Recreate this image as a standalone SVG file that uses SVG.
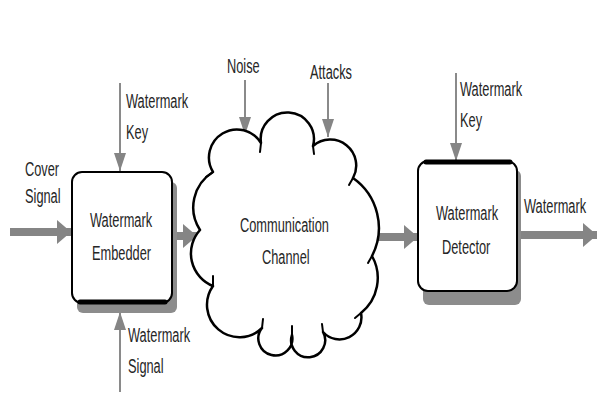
<svg xmlns="http://www.w3.org/2000/svg" width="597" height="400" viewBox="0 0 597 400">
<defs>
<marker id="thin" markerUnits="userSpaceOnUse" markerWidth="18" markerHeight="12" refX="18" refY="6" orient="auto"><path d="M0,0 L18,6 L0,12 z" fill="#858585"/></marker>
<marker id="thick" markerUnits="userSpaceOnUse" markerWidth="14" markerHeight="26" refX="14" refY="13" orient="auto"><path d="M0,1 L14,13 L0,25 z" fill="#858585"/></marker>
<style>
text{font-family:"Liberation Sans",Arial,sans-serif;font-size:20px;fill:#262626;}
.thin{stroke:#8a8a8a;stroke-width:2;fill:none;marker-end:url(#thin);}
.thick{stroke:#858585;stroke-width:8;fill:none;marker-end:url(#thick);}
.box{fill:#fff;stroke:#000;stroke-width:2;}
.shadow{fill:#8c8c8c;}
.edge{stroke:#000;stroke-width:5;stroke-linecap:round;}
.cloud{fill:#fff;stroke:#000;stroke-width:2.5;stroke-linejoin:round;}
.tick{stroke:#000;stroke-width:2;stroke-linecap:round;}
</style>
</defs>
<rect width="597" height="400" fill="#fff"/>

<g id="connectors">
<line class="thick" x1="10" y1="232" x2="71" y2="232"/>
<line class="thick" x1="177" y1="236" x2="197" y2="236"/>
<line class="thick" x1="376" y1="237" x2="418" y2="237"/>
<line class="thick" x1="517" y1="235" x2="597" y2="235"/>
<line class="thin" x1="120" y1="83" x2="120" y2="171"/>
<line class="thin" x1="120" y1="392" x2="120" y2="312"/>
<line class="thin" x1="245" y1="80" x2="245" y2="135"/>
<line class="thin" x1="328" y1="83" x2="328" y2="137"/>
<line class="thin" x1="456" y1="73" x2="456" y2="161"/>
</g>

<g id="embedder">
<rect class="shadow" x="77" y="182" width="100" height="131" rx="6"/>
<rect class="box" x="72" y="172" width="100" height="131" rx="10"/>
<line class="edge" x1="80" y1="302" x2="165" y2="302"/>
<text transform="translate(90,227) scale(0.64,1)">Watermark</text>
<text transform="translate(92,260) scale(0.64,1)">Embedder</text>
</g>

<g id="channel">
<path class="cloud" d="M213,172 A28,28 0 0 1 261,143 A26.6,26.6 0 1 1 313,146 A26,26 0 0 1 353,178 A61,61 0 0 1 372,256 A45,45 0 0 1 361,313 A22,22 0 0 1 323,332 A17,17 0 1 1 292,335 A17,17 0 1 1 262,328 A32.4,32.4 0 0 1 213,286 A35,35 0 0 1 200,230 A41.5,41.5 0 0 1 213,172 Z"/>
<line class="tick" x1="261" y1="143" x2="260" y2="152"/>
<line class="tick" x1="313" y1="146" x2="314" y2="154"/>
<line class="tick" x1="353" y1="178" x2="349" y2="185"/>
<line class="tick" x1="372" y1="256" x2="368" y2="263"/>
<line class="tick" x1="361" y1="313" x2="355" y2="318"/>
<line class="tick" x1="323" y1="332" x2="322" y2="324"/>
<line class="tick" x1="292" y1="335" x2="292" y2="326"/>
<line class="tick" x1="262" y1="328" x2="263" y2="319"/>
<line class="tick" x1="213" y1="286" x2="213" y2="276"/>
<line class="tick" x1="213" y1="172" x2="206" y2="177"/>
<text transform="translate(240,232) scale(0.64,1)">Communication</text>
<text transform="translate(262,264) scale(0.64,1)">Channel</text>
</g>

<g id="detector">
<rect class="shadow" x="423" y="170" width="98" height="135" rx="6"/>
<rect class="box" x="418" y="161" width="99" height="130" rx="10"/>
<line class="edge" x1="426" y1="162" x2="510" y2="162"/>
<text transform="translate(436,220) scale(0.64,1)">Watermark</text>
<text transform="translate(442,254) scale(0.64,1)">Detector</text>
</g>

<g id="labels">
<text transform="translate(126,108) scale(0.64,1)">Watermark</text>
<text transform="translate(126,139) scale(0.64,1)">Key</text>
<text transform="translate(25,176) scale(0.64,1)">Cover</text>
<text transform="translate(25,203) scale(0.64,1)">Signal</text>
<text transform="translate(128,342) scale(0.64,1)">Watermark</text>
<text transform="translate(128,373) scale(0.64,1)">Signal</text>
<text transform="translate(227,73) scale(0.64,1)">Noise</text>
<text transform="translate(310,79) scale(0.64,1)">Attacks</text>
<text transform="translate(460,96) scale(0.64,1)">Watermark</text>
<text transform="translate(460,127) scale(0.64,1)">Key</text>
<text transform="translate(524,213) scale(0.64,1)">Watermark</text>
</g>
</svg>
